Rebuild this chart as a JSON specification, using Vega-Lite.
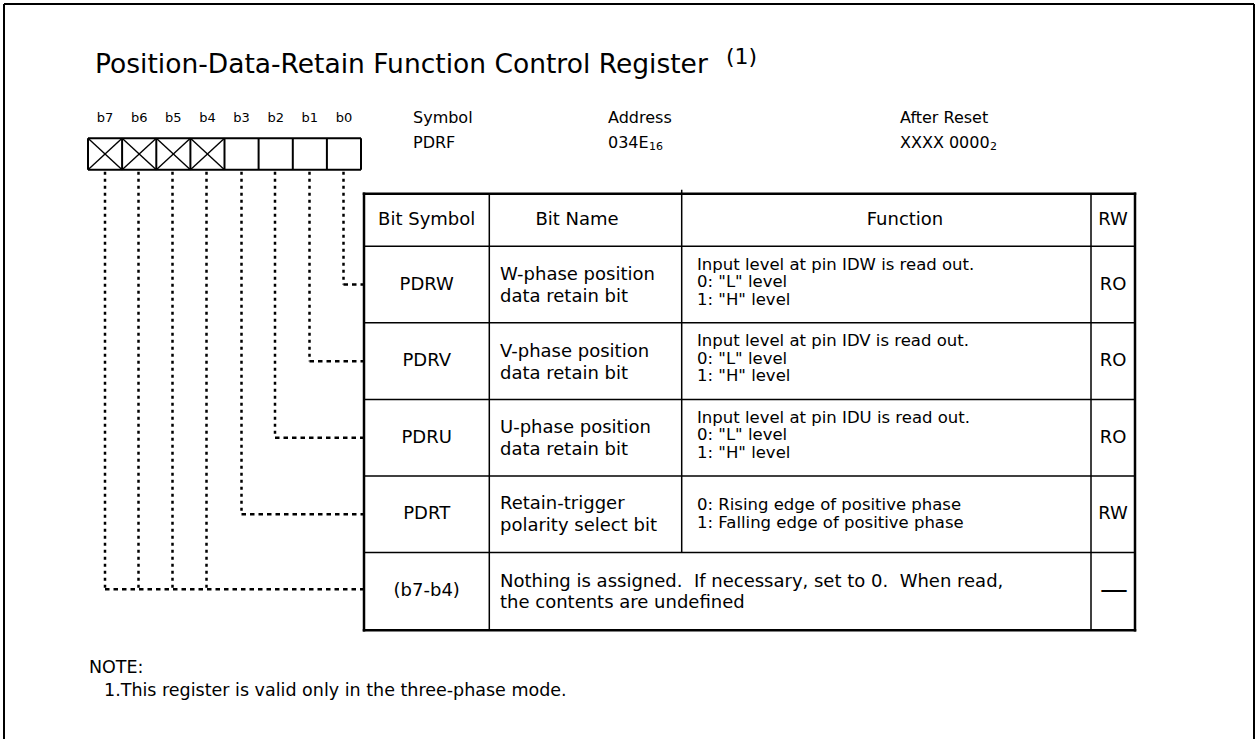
{
  "$schema": "https://vega.github.io/schema/vega-lite/v6.json",
  "width": 1257,
  "height": 740,
  "padding": 0,
  "autosize": {"type": "fit", "contains": "padding"},
  "background": "white",
  "config": {"view": {"stroke": null}},
  "datasets": {
    "segs": [
      {"kind": "frame", "x": 4, "y": 4, "x2": 1254, "y2": 4},
      {"kind": "frame", "x": 4, "y": 4, "x2": 4, "y2": 740},
      {"kind": "frame", "x": 1254, "y": 4, "x2": 1254, "y2": 740},
      {"kind": "register", "x": 88, "y": 138.5, "x2": 361, "y2": 138.5},
      {"kind": "register", "x": 88, "y": 170, "x2": 361, "y2": 170},
      {"kind": "register", "x": 88, "y": 138.5, "x2": 88, "y2": 170},
      {"kind": "register", "x": 122.1, "y": 138.5, "x2": 122.1, "y2": 170},
      {"kind": "register", "x": 156.3, "y": 138.5, "x2": 156.3, "y2": 170},
      {"kind": "register", "x": 190.4, "y": 138.5, "x2": 190.4, "y2": 170},
      {"kind": "register", "x": 224.5, "y": 138.5, "x2": 224.5, "y2": 170},
      {"kind": "register", "x": 258.6, "y": 138.5, "x2": 258.6, "y2": 170},
      {"kind": "register", "x": 292.8, "y": 138.5, "x2": 292.8, "y2": 170},
      {"kind": "register", "x": 326.9, "y": 138.5, "x2": 326.9, "y2": 170},
      {"kind": "register", "x": 361, "y": 138.5, "x2": 361, "y2": 170},
      {"kind": "cross", "x": 88, "y": 138.5, "x2": 122.1, "y2": 170},
      {"kind": "cross", "x": 88, "y": 170, "x2": 122.1, "y2": 138.5},
      {"kind": "cross", "x": 122.1, "y": 138.5, "x2": 156.3, "y2": 170},
      {"kind": "cross", "x": 122.1, "y": 170, "x2": 156.3, "y2": 138.5},
      {"kind": "cross", "x": 156.3, "y": 138.5, "x2": 190.4, "y2": 170},
      {"kind": "cross", "x": 156.3, "y": 170, "x2": 190.4, "y2": 138.5},
      {"kind": "cross", "x": 190.4, "y": 138.5, "x2": 224.5, "y2": 170},
      {"kind": "cross", "x": 190.4, "y": 170, "x2": 224.5, "y2": 138.5},
      {"kind": "leader-v", "x": 105, "y": 172, "x2": 105, "y2": 590},
      {"kind": "leader-v", "x": 138.5, "y": 172, "x2": 138.5, "y2": 590},
      {"kind": "leader-v", "x": 172.5, "y": 172, "x2": 172.5, "y2": 590},
      {"kind": "leader-v", "x": 206.5, "y": 172, "x2": 206.5, "y2": 590},
      {"kind": "leader-v", "x": 241.5, "y": 172, "x2": 241.5, "y2": 515},
      {"kind": "leader-v", "x": 275, "y": 172, "x2": 275, "y2": 438.3},
      {"kind": "leader-v", "x": 309.5, "y": 172, "x2": 309.5, "y2": 361.7},
      {"kind": "leader-v", "x": 343.5, "y": 172, "x2": 343.5, "y2": 285},
      {"kind": "leader-h", "x": 105, "y": 590, "x2": 364, "y2": 590},
      {"kind": "leader-h", "x": 241.5, "y": 515, "x2": 364, "y2": 515},
      {"kind": "leader-h", "x": 275, "y": 438.3, "x2": 364, "y2": 438.3},
      {"kind": "leader-h", "x": 309.5, "y": 361.7, "x2": 364, "y2": 361.7},
      {"kind": "leader-h", "x": 343.5, "y": 285, "x2": 364, "y2": 285},
      {"kind": "table-outer", "x": 364, "y": 194, "x2": 1135, "y2": 194},
      {"kind": "table-outer", "x": 364, "y": 631, "x2": 1135, "y2": 631},
      {"kind": "table-outer", "x": 364, "y": 194, "x2": 364, "y2": 631},
      {"kind": "table-outer", "x": 1135, "y": 194, "x2": 1135, "y2": 631},
      {"kind": "table-inner", "x": 364, "y": 246.7, "x2": 1135, "y2": 246.7},
      {"kind": "table-inner", "x": 364, "y": 323.3, "x2": 1135, "y2": 323.3},
      {"kind": "table-inner", "x": 364, "y": 400, "x2": 1135, "y2": 400},
      {"kind": "table-inner", "x": 364, "y": 476.7, "x2": 1135, "y2": 476.7},
      {"kind": "table-inner", "x": 364, "y": 553.3, "x2": 1135, "y2": 553.3},
      {"kind": "table-inner", "x": 489.3, "y": 194, "x2": 489.3, "y2": 631},
      {"kind": "table-inner", "x": 681.7, "y": 190, "x2": 681.7, "y2": 553.3},
      {"kind": "table-inner", "x": 1091, "y": 194, "x2": 1091, "y2": 631}
    ],
    "texts": [
      {"role": "title", "x": 95, "y": 65, "text": "Position-Data-Retain Function Control Register"},
      {"role": "sup", "x": 726, "y": 57, "text": "(1)"},
      {"role": "bit", "x": 105.1, "y": 118, "text": "b7"},
      {"role": "bit", "x": 139.2, "y": 118, "text": "b6"},
      {"role": "bit", "x": 173.3, "y": 118, "text": "b5"},
      {"role": "bit", "x": 207.5, "y": 118, "text": "b4"},
      {"role": "bit", "x": 241.6, "y": 118, "text": "b3"},
      {"role": "bit", "x": 275.7, "y": 118, "text": "b2"},
      {"role": "bit", "x": 309.8, "y": 118, "text": "b1"},
      {"role": "bit", "x": 344, "y": 118, "text": "b0"},
      {"role": "info", "x": 413, "y": 118.5, "text": "Symbol"},
      {"role": "info", "x": 608, "y": 118.5, "text": "Address"},
      {"role": "info", "x": 900, "y": 118.5, "text": "After Reset"},
      {"role": "info", "x": 413, "y": 143, "text": "PDRF"},
      {"role": "info", "x": 608, "y": 143, "text": "034E"},
      {"role": "info", "x": 900, "y": 143, "text": "XXXX 0000"},
      {"role": "sub", "x": 649, "y": 147, "text": "16"},
      {"role": "sub", "x": 990, "y": 147, "text": "2"},
      {"role": "center", "x": 426.7, "y": 220, "text": "Bit Symbol"},
      {"role": "center", "x": 577, "y": 220, "text": "Bit Name"},
      {"role": "center", "x": 905, "y": 220, "text": "Function"},
      {"role": "center", "x": 1113, "y": 220, "text": "RW"},
      {"role": "center", "x": 426.7, "y": 285, "text": "PDRW"},
      {"role": "center", "x": 426.7, "y": 361.7, "text": "PDRV"},
      {"role": "center", "x": 426.7, "y": 438.3, "text": "PDRU"},
      {"role": "center", "x": 426.7, "y": 515, "text": "PDRT"},
      {"role": "center", "x": 426.7, "y": 592, "text": "(b7-b4)"},
      {"role": "center", "x": 1113, "y": 285, "text": "RO"},
      {"role": "center", "x": 1113, "y": 361.7, "text": "RO"},
      {"role": "center", "x": 1113, "y": 438.3, "text": "RO"},
      {"role": "center", "x": 1113, "y": 515, "text": "RW"},
      {"role": "dash", "x": 1114, "y": 592, "text": "—"},
      {"role": "left", "x": 500, "y": 275.5, "text": "W-phase position"},
      {"role": "left", "x": 500, "y": 297.5, "text": "data retain bit"},
      {"role": "left", "x": 500, "y": 352.2, "text": "V-phase position"},
      {"role": "left", "x": 500, "y": 374.2, "text": "data retain bit"},
      {"role": "left", "x": 500, "y": 428.8, "text": "U-phase position"},
      {"role": "left", "x": 500, "y": 450.8, "text": "data retain bit"},
      {"role": "left", "x": 500, "y": 505, "text": "Retain-trigger"},
      {"role": "left", "x": 500, "y": 526.5, "text": "polarity select bit"},
      {"role": "func", "x": 697, "y": 265, "text": "Input level at pin IDW is read out."},
      {"role": "func", "x": 697, "y": 282.5, "text": "0: \"L\" level"},
      {"role": "func", "x": 697, "y": 300, "text": "1: \"H\" level"},
      {"role": "func", "x": 697, "y": 341.7, "text": "Input level at pin IDV is read out."},
      {"role": "func", "x": 697, "y": 359.2, "text": "0: \"L\" level"},
      {"role": "func", "x": 697, "y": 376.7, "text": "1: \"H\" level"},
      {"role": "func", "x": 697, "y": 418.3, "text": "Input level at pin IDU is read out."},
      {"role": "func", "x": 697, "y": 435.8, "text": "0: \"L\" level"},
      {"role": "func", "x": 697, "y": 453.3, "text": "1: \"H\" level"},
      {"role": "func", "x": 697, "y": 506, "text": "0: Rising edge of positive phase"},
      {"role": "func", "x": 697, "y": 524, "text": "1: Falling edge of positive phase"},
      {"role": "left", "x": 500, "y": 583, "text": "Nothing is assigned.\u00a0 If necessary, set to 0.\u00a0 When read,"},
      {"role": "left", "x": 500, "y": 604, "text": "the contents are undefined"},
      {"role": "note", "x": 89, "y": 668.5, "text": "NOTE:"},
      {"role": "note", "x": 104, "y": 691.5, "text": "1.This register is valid only in the three-phase mode."}
    ]
  },
  "encoding": {
    "x": {"field": "x", "type": "quantitative", "scale": {"domain": [0, 1257], "nice": false, "zero": false}, "axis": null},
    "y": {"field": "y", "type": "quantitative", "scale": {"domain": [0, 740], "reverse": true, "nice": false, "zero": false}, "axis": null}
  },
  "layer": [
    {"data": {"name": "segs"}, "transform": [{"filter": "datum.kind === 'frame'"}],
     "mark": {"type": "rule", "color": "black", "strokeWidth": 2},
     "encoding": {"x2": {"field": "x2"}, "y2": {"field": "y2"}}},
    {"data": {"name": "segs"}, "transform": [{"filter": "datum.kind === 'register'"}],
     "mark": {"type": "rule", "color": "black", "strokeWidth": 2},
     "encoding": {"x2": {"field": "x2"}, "y2": {"field": "y2"}}},
    {"data": {"name": "segs"}, "transform": [{"filter": "datum.kind === 'cross'"}],
     "mark": {"type": "rule", "color": "black", "strokeWidth": 1.4},
     "encoding": {"x2": {"field": "x2"}, "y2": {"field": "y2"}}},
    {"data": {"name": "segs"}, "transform": [{"filter": "datum.kind === 'leader-v'"}],
     "mark": {"type": "rule", "color": "black", "strokeWidth": 2.5, "strokeDash": [3, 4], "strokeCap": "butt"},
     "encoding": {"x2": {"field": "x2"}, "y2": {"field": "y2"}}},
    {"data": {"name": "segs"}, "transform": [{"filter": "datum.kind === 'leader-h'"}],
     "mark": {"type": "rule", "color": "black", "strokeWidth": 2.5, "strokeDash": [4.5, 4], "strokeCap": "butt"},
     "encoding": {"x2": {"field": "x2"}, "y2": {"field": "y2"}}},
    {"data": {"name": "segs"}, "transform": [{"filter": "datum.kind === 'table-outer'"}],
     "mark": {"type": "rule", "color": "black", "strokeWidth": 2.5, "strokeCap": "square"},
     "encoding": {"x2": {"field": "x2"}, "y2": {"field": "y2"}}},
    {"data": {"name": "segs"}, "transform": [{"filter": "datum.kind === 'table-inner'"}],
     "mark": {"type": "rule", "color": "black", "strokeWidth": 1.5},
     "encoding": {"x2": {"field": "x2"}, "y2": {"field": "y2"}}},
    {"data": {"name": "texts"}, "transform": [{"filter": "datum.role === 'title'"}],
     "mark": {"type": "text", "font": "DejaVu Sans", "fontSize": 26.5, "align": "left", "baseline": "middle", "color": "black"},
     "encoding": {"text": {"field": "text"}}},
    {"data": {"name": "texts"}, "transform": [{"filter": "datum.role === 'sup'"}],
     "mark": {"type": "text", "font": "DejaVu Sans", "fontSize": 22, "align": "left", "baseline": "middle", "color": "black"},
     "encoding": {"text": {"field": "text"}}},
    {"data": {"name": "texts"}, "transform": [{"filter": "datum.role === 'bit'"}],
     "mark": {"type": "text", "font": "DejaVu Sans", "fontSize": 13, "align": "center", "baseline": "middle", "color": "black"},
     "encoding": {"text": {"field": "text"}}},
    {"data": {"name": "texts"}, "transform": [{"filter": "datum.role === 'info'"}],
     "mark": {"type": "text", "font": "DejaVu Sans", "fontSize": 16, "align": "left", "baseline": "middle", "color": "black"},
     "encoding": {"text": {"field": "text"}}},
    {"data": {"name": "texts"}, "transform": [{"filter": "datum.role === 'sub'"}],
     "mark": {"type": "text", "font": "DejaVu Sans", "fontSize": 11, "align": "left", "baseline": "middle", "color": "black"},
     "encoding": {"text": {"field": "text"}}},
    {"data": {"name": "texts"}, "transform": [{"filter": "datum.role === 'center'"}],
     "mark": {"type": "text", "font": "DejaVu Sans", "fontSize": 18, "align": "center", "baseline": "middle", "color": "black"},
     "encoding": {"text": {"field": "text"}}},
    {"data": {"name": "texts"}, "transform": [{"filter": "datum.role === 'dash'"}],
     "mark": {"type": "text", "font": "DejaVu Sans", "fontSize": 28, "align": "center", "baseline": "middle", "color": "black"},
     "encoding": {"text": {"field": "text"}}},
    {"data": {"name": "texts"}, "transform": [{"filter": "datum.role === 'left'"}],
     "mark": {"type": "text", "font": "DejaVu Sans", "fontSize": 18, "align": "left", "baseline": "middle", "color": "black"},
     "encoding": {"text": {"field": "text"}}},
    {"data": {"name": "texts"}, "transform": [{"filter": "datum.role === 'func'"}],
     "mark": {"type": "text", "font": "DejaVu Sans", "fontSize": 16.5, "align": "left", "baseline": "middle", "color": "black"},
     "encoding": {"text": {"field": "text"}}},
    {"data": {"name": "texts"}, "transform": [{"filter": "datum.role === 'note'"}],
     "mark": {"type": "text", "font": "DejaVu Sans", "fontSize": 17.5, "align": "left", "baseline": "middle", "color": "black"},
     "encoding": {"text": {"field": "text"}}}
  ]
}
